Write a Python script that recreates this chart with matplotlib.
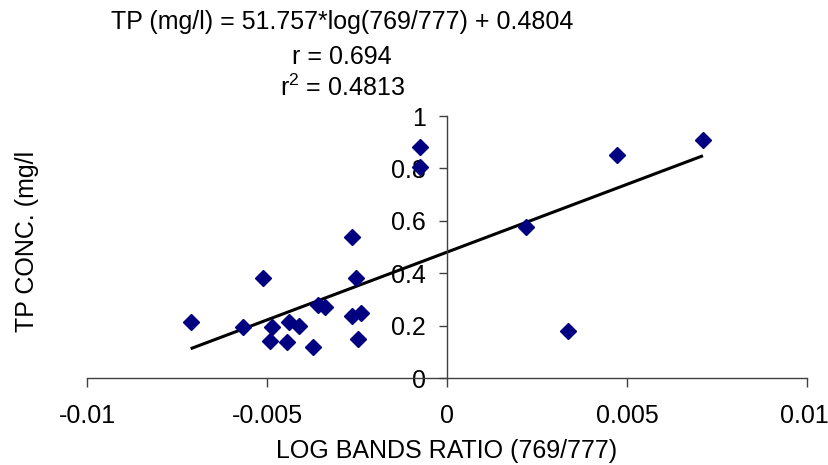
import matplotlib
matplotlib.use("Agg")
import matplotlib.pyplot as plt
import matplotlib.transforms as mtransforms
import numpy as np

plt.rcParams['font.family'] = ['Liberation Sans', 'DejaVu Sans']
plt.rcParams['mathtext.fontset'] = 'custom'
plt.rcParams['mathtext.rm'] = 'Liberation Sans'
plt.rcParams['mathtext.it'] = 'Liberation Sans'

log_ratio = [-0.00712, -0.00567, -0.0051, -0.00487, -0.00491, -0.0044, -0.00445,
             -0.0041, -0.00372, -0.00359, -0.00338, -0.00263, -0.00252, -0.00263,
             -0.00238, -0.00247, -0.00075, -0.00075, 0.0022, 0.00335, 0.00473, 0.00711]
tp_conc = [0.212, 0.193, 0.383, 0.193, 0.142, 0.212, 0.136,
           0.200, 0.120, 0.279, 0.270, 0.537, 0.383, 0.238,
           0.250, 0.149, 0.883, 0.807, 0.578, 0.181, 0.851, 0.908]
slope = 51.757
intercept = 0.4804
x_ticks = [-0.01, -0.005, 0, 0.005, 0.01]
x_tick_labels = ['-0.01', '-0.005', '0', '0.005', '0.01']
y_ticks = [0, 0.2, 0.4, 0.6, 0.8, 1.0]
y_tick_labels = ['0', '0.2', '0.4', '0.6', '0.8', '1']

W, H = 829, 465
FS = 18
fig = plt.figure(figsize=(W / 100, H / 100), dpi=100)
ax = fig.add_axes([87 / W, 1 - 378 / H, (807 - 87) / W, (378 - 116) / H])

ax.set_xlim(-0.01, 0.01)
ax.set_ylim(0, 1)

xs = np.array([min(log_ratio), max(log_ratio)])
ax.plot(xs, slope * xs + intercept, color='black', lw=2.2, zorder=2, solid_capstyle='butt')
ax.plot(log_ratio, tp_conc, linestyle='none', marker='D', markersize=8.5,
        color='#000080', markeredgecolor='#000080', zorder=3, clip_on=False)

for s in ['top', 'right']:
    ax.spines[s].set_visible(False)
ax.spines['left'].set_position(('data', 0))
for s in ['left', 'bottom']:
    ax.spines[s].set_color('#404040')
    ax.spines[s].set_linewidth(1.0)

ax.set_xticks(x_ticks)
ax.set_xticklabels(x_tick_labels)
ax.set_yticks(y_ticks)
ax.set_yticklabels(y_tick_labels)
ax.tick_params(axis='x', direction='out', length=6.5, width=1, color='#404040',
               labelsize=FS, pad=12)
ax.tick_params(axis='y', direction='out', length=6, width=1, color='#404040',
               labelsize=FS, pad=9)
for lbl in ax.get_yticklabels():
    lbl.set_zorder(1)

# nudge the last x tick label so it stays inside the figure, as in the reference
last_lbl = ax.get_xticklabels()[-1]
last_lbl.set_transform(last_lbl.get_transform() +
                       mtransforms.ScaledTranslation(-3 / 100, 0, fig.dpi_scale_trans))

fig.text(447 / W, 1 - 458 / H, 'LOG BANDS RATIO (769/777)', ha='center', va='baseline', fontsize=FS)
fig.text(34 / W, 1 - 241 / H, 'TP CONC. (mg/l', ha='center', va='baseline', rotation=90,
         rotation_mode='anchor', fontsize=FS)

fig.text(342 / W, 1 - 29.5 / H, 'TP (mg/l) = 51.757*log(769/777) + 0.4804', ha='center', va='baseline', fontsize=FS)
fig.text(342 / W, 1 - 64 / H, 'r = 0.694', ha='center', va='baseline', fontsize=FS)
fig.text(342 / W, 1 - 96.5 / H, r'r$^{\mathrm{2}}$ = 0.4813', ha='center', va='baseline', fontsize=FS)

fig.savefig('out.png', dpi=100, facecolor='white')
